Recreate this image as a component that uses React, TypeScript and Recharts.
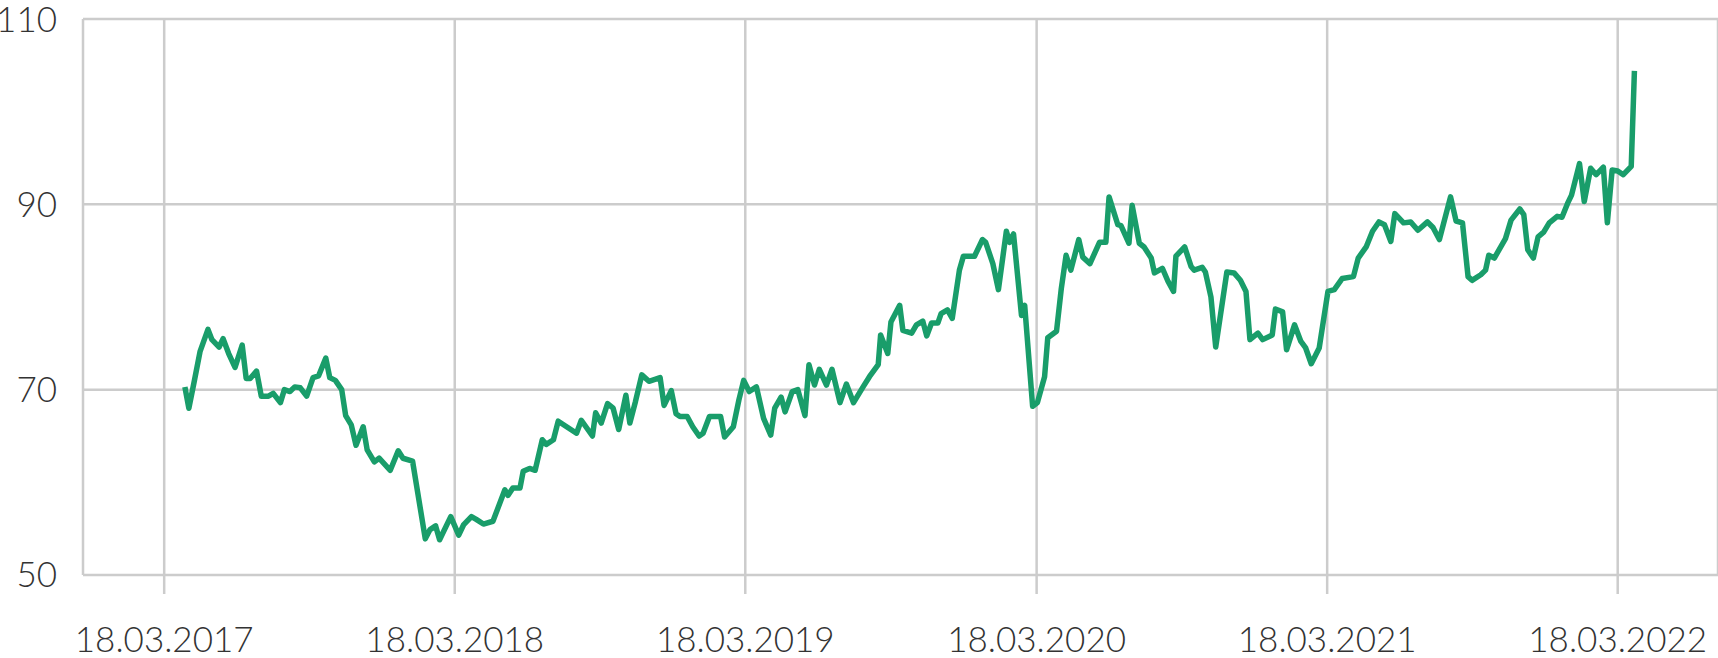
import { LineChart, Line, XAxis, YAxis, CartesianGrid } from 'recharts';

// days after 18.03.2017
const dayOffsets = [
  26, 31, 38, 45, 55, 60, 69, 74, 81, 89, 98, 103, 108, 116, 122, 131, 137, 146, 151, 158,
  164, 171, 179, 187, 194, 203, 208, 215, 223, 228, 235, 241, 250, 255, 264, 270, 284, 294, 300, 312,
  328, 334, 341, 346, 360, 370, 376, 386, 392, 401, 413, 428, 432, 438, 447, 451, 459, 466, 475, 480,
  489, 495, 518, 524, 538, 542, 549, 557, 564, 571, 580, 585, 592, 600, 609, 623, 628, 637, 643, 648,
  657, 664, 672, 677, 685, 699, 704, 715, 722, 728, 735, 744, 753, 762, 767, 775, 780, 789, 796, 805,
  810, 817, 823, 832, 839, 849, 857, 866, 878, 886, 897, 900, 909, 913, 924, 928, 939, 945, 953, 958,
  964, 972, 976, 984, 990, 999, 1004, 1018, 1028, 1032, 1041, 1048, 1058, 1062, 1067, 1077, 1081, 1091, 1097, 1106,
  1110, 1121, 1127, 1133, 1139, 1149, 1154, 1163, 1175, 1183, 1187, 1198, 1202, 1212, 1216, 1225, 1231, 1240, 1244, 1254,
  1261, 1268, 1271, 1282, 1290, 1294, 1304, 1308, 1315, 1321, 1335, 1344, 1352, 1359, 1364, 1374, 1380, 1392, 1396, 1405,
  1410, 1420, 1428, 1434, 1441, 1451, 1462, 1470, 1480, 1494, 1500, 1510, 1518, 1526, 1533, 1541, 1546, 1557, 1566, 1575,
  1587, 1594, 1602, 1616, 1623, 1631, 1638, 1643, 1654, 1660, 1664, 1671, 1685, 1692, 1703, 1708, 1713, 1720, 1726, 1733,
  1740, 1750, 1756, 1763, 1768, 1778, 1784, 1792, 1799, 1808, 1813, 1819, 1826, 1833, 1843, 1847,
];

const prices = [
  70.3, 68.0, 71.0, 74.1, 76.5, 75.4, 74.6, 75.5, 73.9, 72.4, 74.8, 71.2, 71.2, 72.0, 69.3, 69.3, 69.6, 68.6, 70.0, 69.8,
  70.3, 70.2, 69.3, 71.3, 71.5, 73.4, 71.3, 71.0, 70.0, 67.2, 66.2, 64.0, 66.0, 63.5, 62.2, 62.6, 61.3, 63.4, 62.6, 62.3,
  53.9, 54.9, 55.3, 53.8, 56.3, 54.3, 55.4, 56.3, 56.0, 55.5, 55.8, 59.2, 58.6, 59.4, 59.4, 61.2, 61.5, 61.3, 64.6, 64.1,
  64.6, 66.6, 65.3, 66.7, 65.0, 67.5, 66.4, 68.5, 68.0, 65.7, 69.4, 66.4, 68.7, 71.6, 70.9, 71.3, 68.3, 69.9, 67.4, 67.1,
  67.1, 66.0, 65.0, 65.3, 67.1, 67.1, 64.9, 66.0, 68.9, 71.0, 69.8, 70.3, 66.9, 65.1, 68.0, 69.2, 67.6, 69.8, 70.0, 67.2,
  72.7, 70.5, 72.2, 70.5, 72.2, 68.6, 70.6, 68.6, 70.3, 71.4, 72.7, 75.9, 73.9, 77.3, 79.1, 76.4, 76.1, 77.0, 77.4, 75.8,
  77.2, 77.2, 78.2, 78.6, 77.7, 82.9, 84.4, 84.4, 86.2, 85.9, 83.6, 80.8, 87.1, 85.9, 86.8, 78.0, 79.1, 68.2, 68.6, 71.4,
  75.6, 76.3, 80.9, 84.5, 82.9, 86.2, 84.3, 83.6, 85.9, 85.9, 90.8, 87.8, 87.7, 85.8, 89.9, 85.8, 85.4, 84.2, 82.6, 83.1,
  81.7, 80.6, 84.4, 85.4, 83.3, 82.9, 83.2, 82.7, 80.0, 74.6, 82.7, 82.6, 81.8, 80.6, 75.4, 76.1, 75.4, 75.9, 78.7, 78.4,
  74.3, 77.0, 75.2, 74.5, 72.8, 74.5, 80.6, 80.8, 82.0, 82.2, 84.2, 85.4, 87.1, 88.1, 87.8, 86.0, 89.0, 88.0, 88.1, 87.2,
  88.1, 87.5, 86.2, 90.8, 88.2, 88.0, 82.2, 81.8, 82.4, 82.9, 84.5, 84.2, 86.3, 88.3, 89.5, 88.9, 85.1, 84.2, 86.5, 87.0,
  88.0, 88.7, 88.6, 90.1, 91.0, 94.4, 90.3, 93.9, 93.2, 94.0, 88.0, 93.7, 93.6, 93.2, 94.1, 104.4,
];

const tickYears = [2017, 2018, 2019, 2020, 2021, 2022];
const yTicks = [50, 70, 90, 110];

const DAY = 86400000;
const start = Date.UTC(2017, 2, 18);

const data = dayOffsets.map((d, i) => ({ t: start + d * DAY, value: prices[i] }));
const xTicks = tickYears.map((y) => Date.UTC(y, 2, 18));

const formatDate = (ts: number) => {
  const d = new Date(ts);
  const dd = String(d.getUTCDate()).padStart(2, '0');
  const mm = String(d.getUTCMonth() + 1).padStart(2, '0');
  return `${dd}.${mm}.${d.getUTCFullYear()}`;
};

const tickStyle = {
  fontFamily: 'Lato, sans-serif',
  fontWeight: 300,
  fontSize: 35,
  fill: '#333333',
};

export default function App() {
  return (
    <div style={{ position: 'absolute', left: 0, top: 0, background: '#fff' }}>
      <LineChart
        width={1718}
        height={658}
        data={data}
        margin={{ top: 19, right: 0, bottom: 0, left: 0 }}
      >
        <CartesianGrid stroke="#cccccc" strokeWidth={2.5} />
        <XAxis
          dataKey="t"
          type="number"
          domain={[start - 102 * DAY, start + 1952 * DAY]}
          ticks={xTicks}
          interval={0}
          tickFormatter={formatDate}
          axisLine={false}
          tickLine={{ stroke: '#cccccc', strokeWidth: 2.5 }}
          tickSize={19}
          tickMargin={33}
          height={83}
          tick={tickStyle}
        />
        <YAxis
          domain={[50, 110]}
          ticks={yTicks}
          axisLine={false}
          tickLine={false}
          tickSize={0}
          tickMargin={26}
          width={83}
          tick={tickStyle}
        />
        <Line
          type="linear"
          dataKey="value"
          stroke="#199d6a"
          strokeWidth={5.5}
          strokeLinejoin="round"
          dot={false}
          isAnimationActive={false}
        />
      </LineChart>
    </div>
  );
}
